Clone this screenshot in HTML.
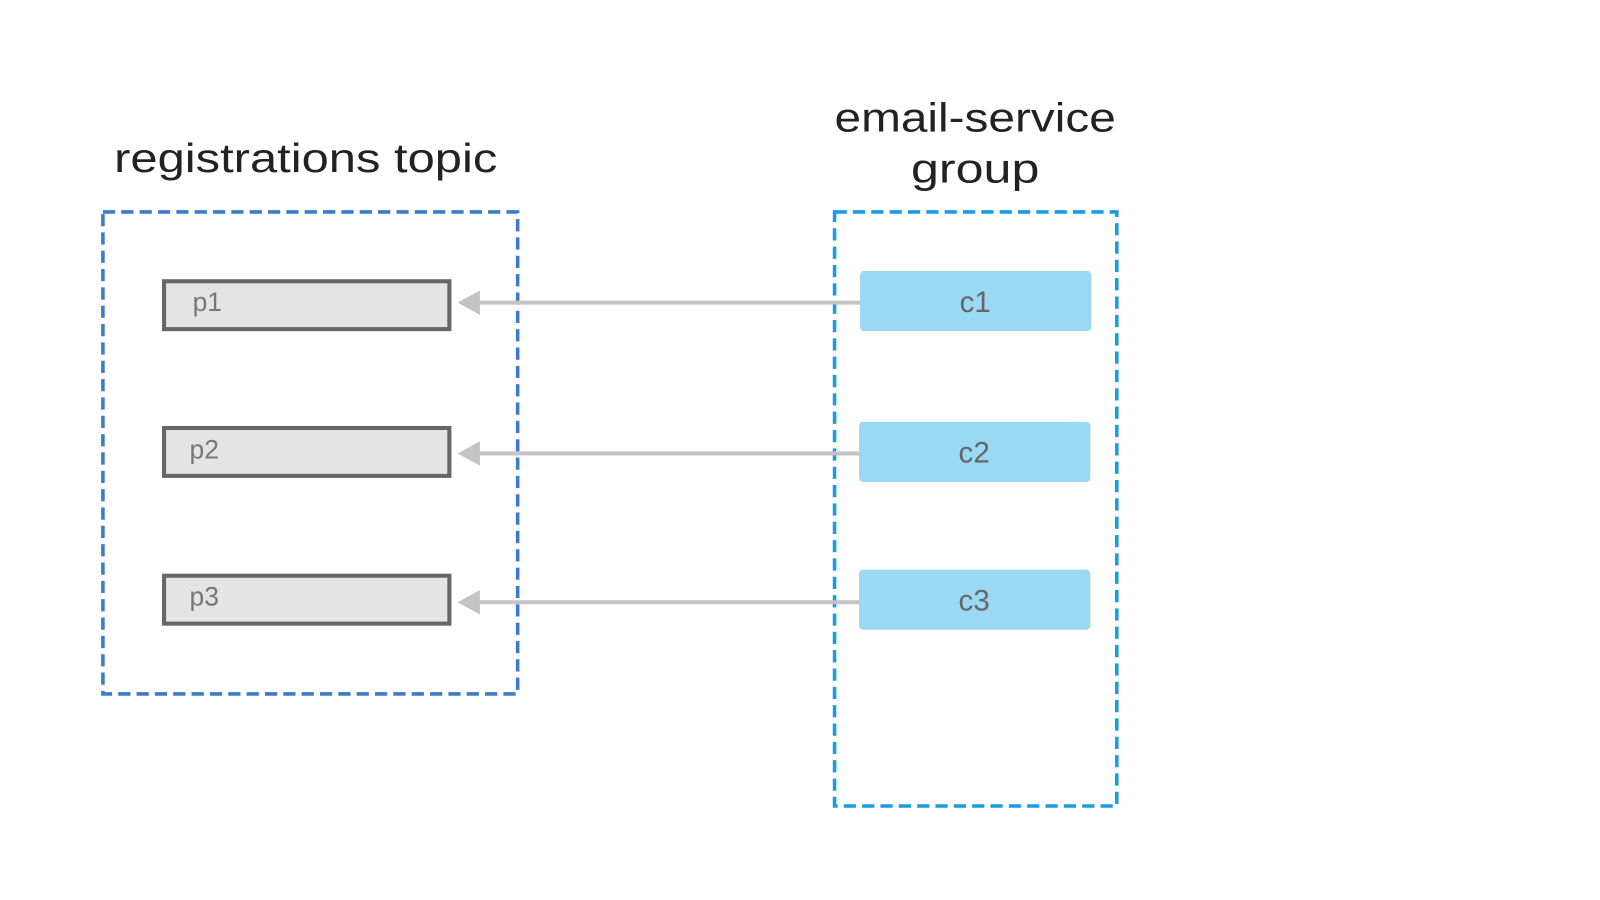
<!DOCTYPE html>
<html><head><meta charset="utf-8"><style>
html,body{margin:0;padding:0;background:#fff;width:1600px;height:900px;overflow:hidden}
svg text{font-family:"Liberation Sans",sans-serif}
</style></head><body>
<svg width="1600" height="900" viewBox="0 0 1600 900" xmlns="http://www.w3.org/2000/svg">
<g transform="scale(1.019)">
<text x="112" y="169" font-size="40" fill="#222" textLength="376" lengthAdjust="spacingAndGlyphs">registrations topic</text>
<text x="819" y="129" font-size="40" fill="#222" textLength="276" lengthAdjust="spacingAndGlyphs">email-service</text>
<text x="894" y="179" font-size="40" fill="#222" textLength="126" lengthAdjust="spacingAndGlyphs">group</text>
<rect x="101" y="208" width="407" height="473" fill="none" stroke="#3a7cc8" stroke-width="3.5" stroke-dasharray="12,6"/>
<rect x="819" y="208" width="277" height="583" fill="none" stroke="#1a9be6" stroke-width="3.5" stroke-dasharray="12,6"/>
<g fill="#e4e4e4" stroke="#666" stroke-width="4">
<rect x="161" y="276" width="280" height="47"/>
<rect x="161" y="420" width="280" height="47"/>
<rect x="161" y="565" width="280" height="47"/>
</g>
<g font-size="26" fill="#777">
<text x="189" y="305">p1</text>
<text x="186" y="450">p2</text>
<text x="186" y="594">p3</text>
</g>
<g stroke="#c4c4c4" stroke-width="4">
<line x1="468" y1="297" x2="846" y2="297"/>
<line x1="468" y1="445" x2="846" y2="445"/>
<line x1="468" y1="591" x2="846" y2="591"/>
</g>
<g fill="#c4c4c4">
<polygon points="449,297 471,285 471,309"/>
<polygon points="449,445 471,433 471,457"/>
<polygon points="449,591 471,579 471,603"/>
</g>
<g fill="#9bd8f3">
<rect x="844" y="266" width="227" height="59" rx="4"/>
<rect x="843" y="414" width="227" height="59" rx="4"/>
<rect x="843" y="559" width="227" height="59" rx="4"/>
</g>
<g font-size="29" fill="#666" text-anchor="middle">
<text x="957" y="306">c1</text>
<text x="956" y="454">c2</text>
<text x="956" y="599">c3</text>
</g>
</g>
</svg>
</body></html>
